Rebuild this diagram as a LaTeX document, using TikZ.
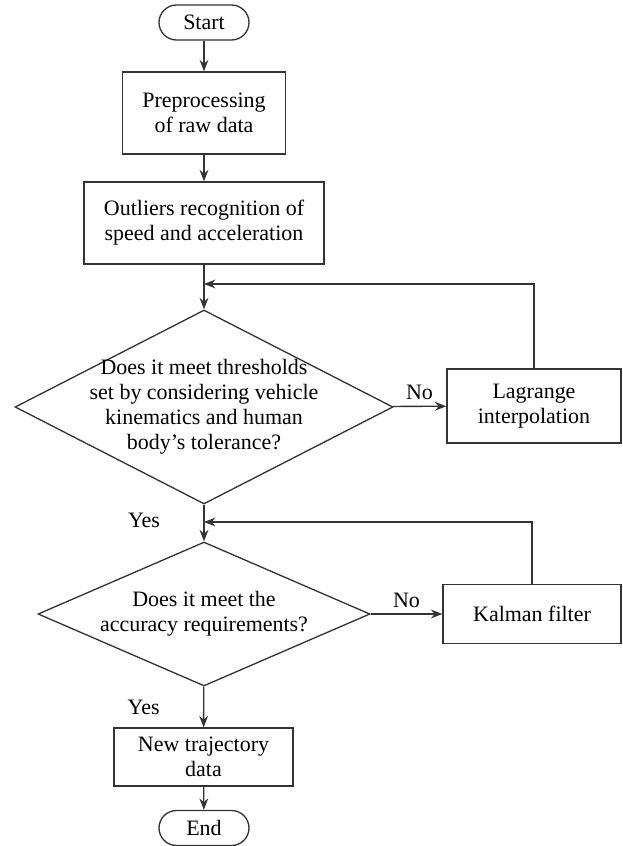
\documentclass[tikz,border=0pt]{standalone}
\usepackage{fontspec}
\setmainfont{Liberation Serif}
\usetikzlibrary{shapes.geometric,arrows.meta}
\tikzset{st/.style = {rectangle, rounded corners=3.5mm, draw, minimum width=18mm, minimum height=7mm, inner sep=0pt},
           pr/.style = {rectangle, draw, align=center, inner sep=0pt},
           dc/.style = {diamond, draw, align=center, inner sep=-2mm}}

\begin{document}
\begin{tikzpicture}[>={Stealth[length=6.5pt,width=5pt]}, line width=0.75pt, draw=black!80, font=\fontsize{12.5}{14.2}\selectfont]
    \useasboundingbox (0,0) rectangle (12.44,-16.92);
    \node[st] (start) at (4.08,-0.45) {Start};
    \node[pr, minimum width=32.6mm, minimum height=16.4mm] (pre) at (4.08,-2.26) {Preprocessing\\of raw data};
    \node[pr, minimum width=48mm, minimum height=16.4mm] (out) at (4.08,-4.46) {Outliers recognition of\\speed and acceleration};
    \coordinate (j1) at (4.08,-5.68);
    \node[dc, aspect=1.95, minimum width=75.6mm, minimum height=38.8mm] (thr) at (4.08,-8.14) {Does it meet thresholds\\set by considering vehicle\\kinematics and human\\body's tolerance?};
    \node[pr, minimum width=34.8mm, minimum height=14.8mm] (lag) at (10.68,-8.12) {Lagrange\\interpolation};
    \coordinate (j2) at (4.08,-10.44);
    \node[dc, aspect=2.3, minimum width=66.4mm, minimum height=28.8mm] (acc) at (4.08,-12.28) {Does it meet the\\accuracy requirements?};
    \node[pr, minimum width=35.6mm, minimum height=11.8mm] (kal) at (10.64,-12.28) {Kalman filter};
    \node[pr, minimum width=35.8mm, minimum height=11.6mm] (new) at (4.07,-15.14) {New trajectory\\data};
    \node[st] (end) at (4.08,-16.56) {End};
    \draw[->] (start) -- (pre);
    \draw[->] (pre) -- (out);
    \draw[->] (out) -- (thr);
    \draw[->] (thr) -- node[above] (no1) {No} (lag);
    \draw[->] (lag) |- (j1);
    \draw[->] (thr) -- node[pos=.42, left=7.5mm] (yes1) {Yes} (acc);
    \draw[->] (acc) -- node[above] (no2) {No} (kal);
    \draw[->] (kal) |- (j2);
    \draw[->] (acc) -- node[left=7.5mm] (yes2) {Yes} (new);
    \draw[->] (new) -- (end);
\end{tikzpicture}
\end{document}
